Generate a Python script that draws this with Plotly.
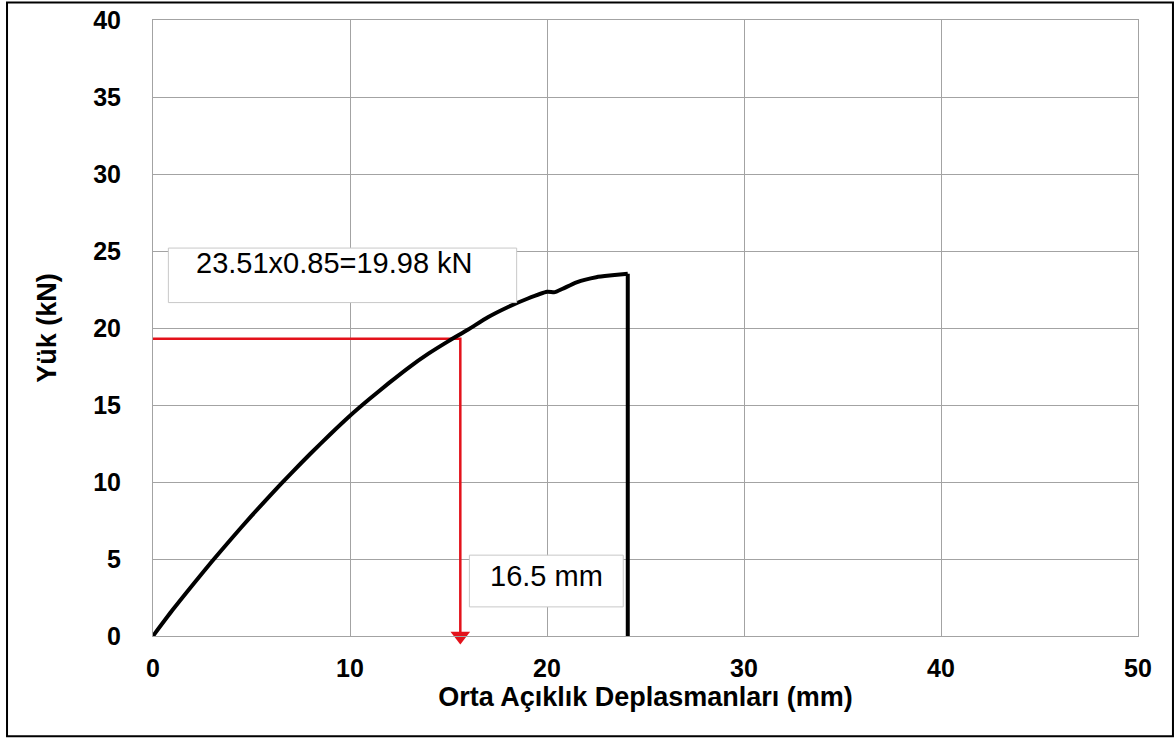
import plotly.graph_objects as go

# Load–deflection curve (kN vs mm)
disp_mm = [0, 1, 2, 3, 4, 5, 6, 7, 8, 9, 10, 11, 12, 13, 14, 15, 16, 17, 18, 19,
           20, 20.4, 20.8, 21.5, 22.5, 23.3, 24.1, 24.1]
load_kn = [0, 1.7, 3.3, 4.85, 6.35, 7.8, 9.2, 10.55, 11.85, 13.1, 14.3, 15.4, 16.45,
           17.45, 18.35, 19.15, 19.9, 20.7, 21.35, 21.9, 22.35, 22.33, 22.55, 22.97,
           23.3, 23.42, 23.52, 0]

# Marked point (red guide lines)
mark_x = 15.6
mark_y = 19.3

label_load = "23.51x0.85=19.98 kN"
label_disp = "16.5 mm"

x_ticks = [0, 10, 20, 30, 40, 50]
y_ticks = [0, 5, 10, 15, 20, 25, 30, 35, 40]

FONT = "Liberation Sans, Arial, sans-serif"
GRID = "#a3a3a3"
RED = "#e3121b"

fig = go.Figure()

# red guide lines
fig.add_trace(go.Scatter(x=[0, mark_x, mark_x], y=[mark_y, mark_y, 0], mode="lines",
                         line=dict(color=RED, width=2.5), hoverinfo="skip",
                         showlegend=False))
fig.add_trace(go.Scatter(x=[mark_x], y=[0], mode="markers",
                         marker=dict(symbol="triangle-down", size=17, color=RED),
                         cliponaxis=False, hoverinfo="skip", showlegend=False))
# main curve (smooth part) and the failure drop
fig.add_trace(go.Scatter(x=disp_mm[:-1], y=load_kn[:-1], mode="lines",
                         line=dict(color="black", width=4, shape="spline", smoothing=0.6),
                         showlegend=False))
fig.add_trace(go.Scatter(x=disp_mm[-2:], y=load_kn[-2:], mode="lines",
                         line=dict(color="black", width=4), showlegend=False))

axis_common = dict(showgrid=True, gridcolor=GRID, gridwidth=1, zeroline=False,
                   showline=True, linecolor=GRID, linewidth=1, mirror=True,
                   ticks="", tickfont=dict(family=FONT, size=25, color="black", weight="bold"))

fig.update_xaxes(range=[0, 50], tickvals=x_ticks, ticklabelstandoff=10,
                 title=dict(text="Orta Açıklık Deplasmanları (mm)", standoff=2,
                            font=dict(family=FONT, size=27, color="black", weight="bold")),
                 **axis_common)
fig.update_yaxes(range=[0, 40], tickvals=y_ticks, ticklabelstandoff=26,
                 title=dict(text="Yük (kN)", standoff=28,
                            font=dict(family=FONT, size=27, color="black", weight="bold")),
                 **axis_common)

shapes = [
    # label boxes
    dict(type="rect", xref="x", yref="y", x0=0.78, x1=18.46, y0=21.65, y1=25.19,
         line=dict(color="#c8c8c8", width=1), fillcolor="white", layer="above"),
    dict(type="rect", xref="x", yref="y", x0=16.06, x1=23.87, y0=1.89, y1=5.25,
         line=dict(color="#c8c8c8", width=1), fillcolor="white", layer="above"),
    # outer frame
    dict(type="rect", xref="paper", yref="paper", x0=-0.1482, x1=1.0355, y0=-0.1628,
         y1=1.0284, line=dict(color="black", width=2), fillcolor="rgba(0,0,0,0)"),
]

annotations = [
    dict(xref="x", yref="y", x=9.2, y=24.2, text=label_load,
         showarrow=False, font=dict(family=FONT, size=29, color="black")),
    dict(xref="x", yref="y", x=19.95, y=3.9, text=label_disp,
         showarrow=False, font=dict(family=FONT, size=29, color="black")),
]

fig.update_layout(width=1176, height=740, plot_bgcolor="white", paper_bgcolor="white",
                  margin=dict(l=153, r=38, t=20, b=104, autoexpand=False),
                  shapes=shapes, annotations=annotations)

fig.write_html("out.html", config={"displayModeBar": False})
